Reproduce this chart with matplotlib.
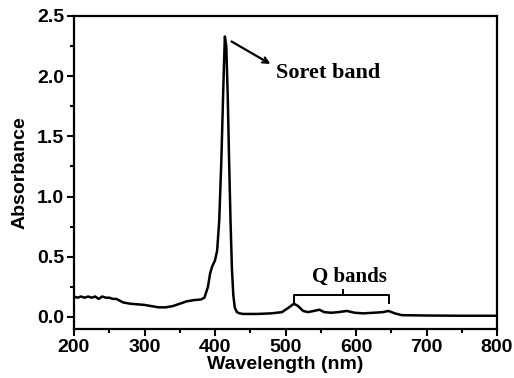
import matplotlib.pyplot as plt
import numpy as np

# absorption spectrum
wavelength = [200, 205, 210, 215, 220, 225, 230, 235, 240, 245, 250, 255, 260, 270, 280, 290,
              300, 310, 320, 330, 340, 350, 360, 370, 380, 385, 390, 393, 396, 400, 403,
              406, 409, 412, 414, 416, 418, 420, 422, 424, 426, 428, 431, 435, 440, 460,
              480, 495, 505, 512, 518, 525, 532, 540, 548, 555, 565, 575, 587, 598, 610,
              625, 638, 646, 655, 665, 700, 750, 800]
absorbance = [0.17, 0.16, 0.17, 0.16, 0.17, 0.16, 0.17, 0.15, 0.17, 0.16, 0.16, 0.15, 0.15, 0.12,
              0.11, 0.105, 0.10, 0.09, 0.08, 0.08, 0.09, 0.11, 0.13, 0.14, 0.145, 0.16, 0.25,
              0.36, 0.42, 0.47, 0.55, 0.80, 1.30, 1.95, 2.33, 2.25, 1.85, 1.30, 0.80, 0.40,
              0.18, 0.08, 0.04, 0.03, 0.025, 0.025, 0.03, 0.04, 0.08, 0.11, 0.09, 0.05, 0.04,
              0.05, 0.06, 0.04, 0.035, 0.04, 0.05, 0.035, 0.03, 0.035, 0.04, 0.05, 0.03,
              0.015, 0.012, 0.01, 0.01]

plt.rcParams['font.family'] = 'Liberation Sans'
plt.rcParams['font.weight'] = 'bold'

fig = plt.figure(figsize=(5.14, 3.78), dpi=100)
ax = fig.add_axes([74 / 514, 49 / 378, 423 / 514, 313 / 378])

ax.plot(wavelength, absorbance, color='black', linewidth=1.8)

ax.set_xlim(200, 800)
ax.set_ylim(-0.1, 2.5)
ax.set_xticks(np.arange(200, 801, 100))
ax.set_xticks(np.arange(250, 800, 100), minor=True)
ax.set_yticks(np.arange(0, 2.51, 0.5))
ax.set_yticks(np.arange(0.25, 2.5, 0.5), minor=True)
ax.tick_params(which='both', direction='out', width=1.5, labelsize=14)
ax.tick_params(which='major', length=5, pad=2)
ax.tick_params(which='minor', length=3)
for s in ax.spines.values():
    s.set_linewidth(1.6)

ax.set_xlabel('Wavelength (nm)', fontsize=14, fontweight='bold', labelpad=0)
ax.set_ylabel('Absorbance', fontsize=14, fontweight='bold', labelpad=6)

# Soret band arrow
ax.annotate('', xy=(482, 2.09), xytext=(420, 2.30),
            arrowprops=dict(arrowstyle='->', color='black', lw=1.6))
ax.text(487, 2.03, 'Soret band', family='Liberation Serif', fontsize=16,
        fontweight='bold', va='center', ha='left')

# Q bands bracket
ax.plot([512, 512, 647, 647], [0.12, 0.18, 0.18, 0.12], color='black', lw=1.4)
ax.plot([581, 581], [0.18, 0.22], color='black', lw=1.4)
ax.text(591, 0.33, 'Q bands', family='Liberation Serif', fontsize=15,
        fontweight='bold', va='center', ha='center')

fig.savefig('out.png', dpi=100)
